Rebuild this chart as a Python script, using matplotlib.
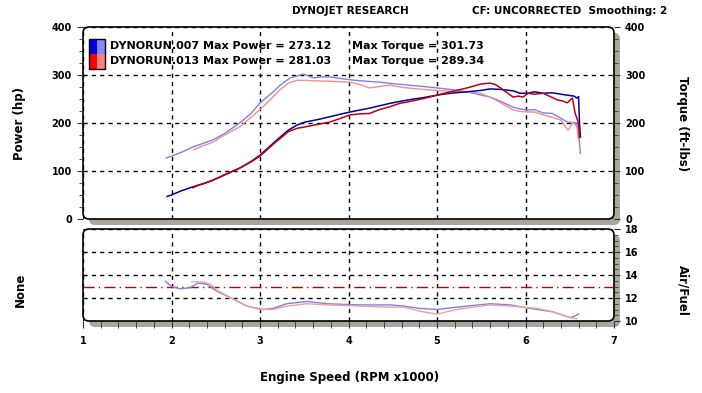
import numpy as np
import matplotlib
matplotlib.use("Agg")
import matplotlib.pyplot as plt
from matplotlib.patches import FancyBboxPatch, Rectangle
from matplotlib.ticker import MultipleLocator

# run 007 (blue)
rpm_pw_007 = [1.95, 2.0, 2.1, 2.24, 2.35, 2.47, 2.6, 2.77, 2.9, 3.0, 3.15, 3.23, 3.32, 3.42, 3.51,
              3.65, 3.79, 3.9, 4.02, 4.24, 4.47, 4.67, 4.85, 5.0, 5.15, 5.34, 5.5, 5.6, 5.72, 5.86,
              5.94, 6.03, 6.1, 6.2, 6.3, 6.4, 6.47, 6.55, 6.58, 6.6, 6.61, 6.62]
hp_007 = [47, 50, 58, 67, 73, 81, 92, 106, 120, 133, 158, 171, 185, 196, 202,
          207, 213, 218, 223, 231, 241, 248, 253, 258, 262, 265, 268, 271, 270, 267,
          262, 262, 265, 262, 263, 260, 258, 256, 252, 255, 200, 171]
rpm_tq_007 = [1.94, 2.0, 2.1, 2.24, 2.35, 2.47, 2.6, 2.77, 2.9, 3.0, 3.15, 3.23, 3.34, 3.42, 3.49,
              3.6, 3.7, 3.79, 3.9, 4.02, 4.2, 4.36, 4.5, 4.67, 4.85, 5.0, 5.15, 5.34, 5.5, 5.6,
              5.72, 5.86, 5.94, 6.03, 6.1, 6.2, 6.3, 6.4, 6.47, 6.55, 6.58, 6.6, 6.62]
tq_007 = [127, 131, 138, 150, 157, 165, 178, 200, 220, 242, 265, 279, 294, 298, 302,
          294, 296, 296, 293, 290, 287, 285, 282, 279, 276, 273, 270, 265, 258, 254,
          245, 233, 229, 227, 228, 221, 220, 210, 202, 200, 200, 180, 137]
rpm_af_007 = [1.93, 2.0, 2.1, 2.21, 2.3, 2.4, 2.51, 2.7, 2.85, 3.03, 3.15, 3.3, 3.53, 3.76, 4.13,
              4.47, 4.62, 4.8, 5.0, 5.22, 5.6, 5.83, 5.97, 6.13, 6.31, 6.5, 6.55, 6.6]
af_007 = [13.45, 13.0, 12.8, 12.9, 13.3, 13.2, 12.6, 11.9, 11.3, 11.0, 11.1, 11.5, 11.7, 11.5, 11.4,
          11.4, 11.3, 11.1, 11.0, 11.2, 11.5, 11.4, 11.2, 11.0, 10.8, 10.3, 10.4, 10.6]

# run 013 (red)
rpm_pw_013 = [2.24, 2.3, 2.4, 2.47, 2.6, 2.77, 2.9, 3.0, 3.15, 3.23, 3.32, 3.42, 3.51, 3.65, 3.79,
              3.9, 4.02, 4.13, 4.24, 4.35, 4.47, 4.58, 4.67, 4.85, 5.0, 5.15, 5.34, 5.49, 5.6, 5.66,
              5.72, 5.8, 5.86, 5.92, 5.97, 6.03, 6.1, 6.2, 6.28, 6.36, 6.42, 6.47, 6.53, 6.56,
              6.58, 6.6, 6.61]
hp_013 = [65, 70, 76, 81, 92, 106, 119, 131, 156, 168, 182, 189, 192, 197, 202,
          209, 217, 219, 220, 228, 234, 241, 244, 251, 258, 265, 273, 281, 283, 280,
          273, 262, 254, 256, 254, 262, 260, 262, 255, 248, 246, 242, 252, 221,
          210, 200, 170]
rpm_tq_013 = [2.25, 2.35, 2.47, 2.6, 2.77, 2.9, 3.03, 3.15, 3.23, 3.32, 3.42, 3.5, 3.6, 3.79, 3.9,
              4.02, 4.13, 4.24, 4.35, 4.47, 4.58, 4.67, 4.85, 5.0, 5.15, 5.34, 5.49, 5.6, 5.72,
              5.86, 5.94, 6.03, 6.1, 6.2, 6.3, 6.4, 6.48, 6.54, 6.58, 6.6]
tq_013 = [144, 152, 160, 175, 192, 212, 233, 255, 270, 283, 289, 289, 288, 287, 286,
          285, 280, 273, 276, 279, 275, 273, 270, 268, 266, 265, 262, 254, 242,
          227, 224, 223, 223, 217, 212, 206, 185, 202, 192, 165]
rpm_af_013 = [2.23, 2.36, 2.44, 2.51, 2.7, 2.85, 3.0, 3.15, 3.3, 3.53, 3.76, 4.13, 4.47, 4.62, 4.84,
              5.0, 5.22, 5.6, 5.83, 6.13, 6.31, 6.5, 6.58]
af_013 = [13.4, 13.4, 13.2, 12.7, 11.9, 11.3, 11.0, 11.0, 11.3, 11.5, 11.4, 11.3, 11.2, 11.2, 10.8,
          10.6, 11.0, 11.4, 11.3, 11.1, 10.8, 10.3, 10.2]

target_afr = 13.0
legend_rows = [("DYNORUN.007 Max Power = 273.12", "Max Torque = 301.73"),
               ("DYNORUN.013 Max Power = 281.03", "Max Torque = 289.34")]

W, H = 702, 393
fig = plt.figure(figsize=(W / 100, H / 100), dpi=100)
fig.patch.set_facecolor("white")
FONT = dict(family="DejaVu Sans", fontweight="bold")


def px_axes(x0, y0, x1, y1):
    """axes from pixel box (top-left origin)"""
    return fig.add_axes([x0 / W, 1 - y1 / H, (x1 - x0) / W, (y1 - y0) / H])


def frame(x0, y0, x1, y1):
    # gray shadow then white rounded panel
    fig.patches.append(FancyBboxPatch((x0 + 6, H - y1 - 6), x1 - x0, y1 - y0,
                                      boxstyle="round,pad=0,rounding_size=6",
                                      transform=None, facecolor="#aaa69a", edgecolor="none", zorder=-3))
    fig.patches.append(FancyBboxPatch((x0, H - y1), x1 - x0, y1 - y0,
                                      boxstyle="round,pad=0,rounding_size=6",
                                      transform=None, facecolor="white", edgecolor="black",
                                      linewidth=1.2, zorder=-2))


def style(ax):
    ax.patch.set_visible(False)
    for s in ax.spines.values():
        s.set_visible(False)
    ax.grid(True, which="major", color="black", linestyle=(0, (3, 3)), linewidth=1)


# top panel
frame(83, 27, 614, 219)
ax1 = px_axes(83, 27, 614, 219)
style(ax1)
ax1.set_xlim(1, 7)
ax1.set_ylim(0, 400)
ax1.xaxis.set_major_locator(MultipleLocator(1))
ax1.yaxis.set_major_locator(MultipleLocator(100))
ax1.yaxis.set_minor_locator(MultipleLocator(25))
ax1.tick_params(axis="x", which="both", bottom=False, labelbottom=False)
ax1.tick_params(axis="y", which="both", left=True, right=True, labelleft=True, labelright=True,
                direction="out", color="#333333", labelsize=7, pad=4)
ax1.tick_params(axis="y", which="major", length=4)
ax1.tick_params(axis="y", which="minor", length=3)
for lab in ax1.get_yticklabels():
    lab.set_fontweight("bold")

ax1.plot(rpm_tq_007, tq_007, color="#8080e8", lw=1)
ax1.plot(rpm_tq_013, tq_013, color="#f09090", lw=1)
ax1.plot(rpm_pw_007, hp_007, color="#0000a0", lw=1.1)
ax1.plot(rpm_pw_013, hp_013, color="#c00010", lw=1.1)

# legend boxes
sw = [("#0000e0", "#8888ff"), ("#ff0000", "#ff8080")]
for i, (c_dark, c_light) in enumerate(sw):
    y_top = 39 + i * 15
    fig.patches.append(Rectangle((89, H - y_top - 15), 8, 15, transform=None,
                                 facecolor=c_dark, edgecolor="none", zorder=3))
    fig.patches.append(Rectangle((97, H - y_top - 15), 8, 15, transform=None,
                                 facecolor=c_light, edgecolor="none", zorder=3))
fig.patches.append(Rectangle((89, H - 69), 16, 30, transform=None,
                             facecolor="none", edgecolor="black", lw=1, zorder=4))
for i, (left_txt, right_txt) in enumerate(legend_rows):
    yy = 1 - (46 + i * 15.5) / H
    fig.text(110 / W, yy, left_txt, fontsize=8, va="center", ha="left", zorder=5, **FONT)
    fig.text(352 / W, yy, right_txt, fontsize=8, va="center", ha="left", zorder=5, **FONT)

# bottom panel
frame(83, 229, 614, 321)
ax2 = px_axes(83, 229, 614, 321)
style(ax2)
ax2.set_xlim(1, 7)
ax2.set_ylim(10, 18)
ax2.xaxis.set_major_locator(MultipleLocator(1))
ax2.xaxis.set_minor_locator(MultipleLocator(0.2))
ax2.yaxis.set_major_locator(MultipleLocator(2))
ax2.yaxis.set_minor_locator(MultipleLocator(0.5))
ax2.tick_params(axis="x", which="both", direction="out", color="#333333", labelsize=7, pad=6, length=5)
ax2.tick_params(axis="y", which="both", left=False, labelleft=False, right=True, labelright=True,
                direction="out", color="#333333", labelsize=7, pad=4)
ax2.tick_params(axis="y", which="major", length=4)
ax2.tick_params(axis="y", which="minor", length=3)
for lab in ax2.get_yticklabels() + ax2.get_xticklabels():
    lab.set_fontweight("bold")
ax2.axhline(target_afr, color="#c00000", lw=1, linestyle=(0, (8, 3, 1, 3)))
ax2.plot(rpm_af_007, af_007, color="#8080e0", lw=1)
ax2.plot(rpm_af_013, af_013, color="#f0a0a0", lw=1)

# texts
fig.text(350 / W, 1 - 11 / H, "DYNOJET RESEARCH", fontsize=7.5, ha="center", va="center", **FONT)
fig.text(472 / W, 1 - 11 / H, "CF: UNCORRECTED  Smoothing: 2", fontsize=7.5, ha="left", va="center", **FONT)
fig.text(20 / W, 1 - 124 / H, "Power (hp)", fontsize=8.5, rotation=90, ha="center", va="center", **FONT)
fig.text(683 / W, 1 - 124 / H, "Torque (ft-lbs)", fontsize=8.5, rotation=270, ha="center", va="center", **FONT)
fig.text(20 / W, 1 - 290 / H, "None", fontsize=8.5, rotation=90, ha="center", va="center", **FONT)
fig.text(683 / W, 1 - 290 / H, "Air/Fuel", fontsize=8.5, rotation=270, ha="center", va="center", **FONT)
fig.text(350 / W, 1 - 377 / H, "Engine Speed (RPM x1000)", fontsize=8.5, ha="center", va="center", **FONT)

fig.savefig("out.png", dpi=100)
